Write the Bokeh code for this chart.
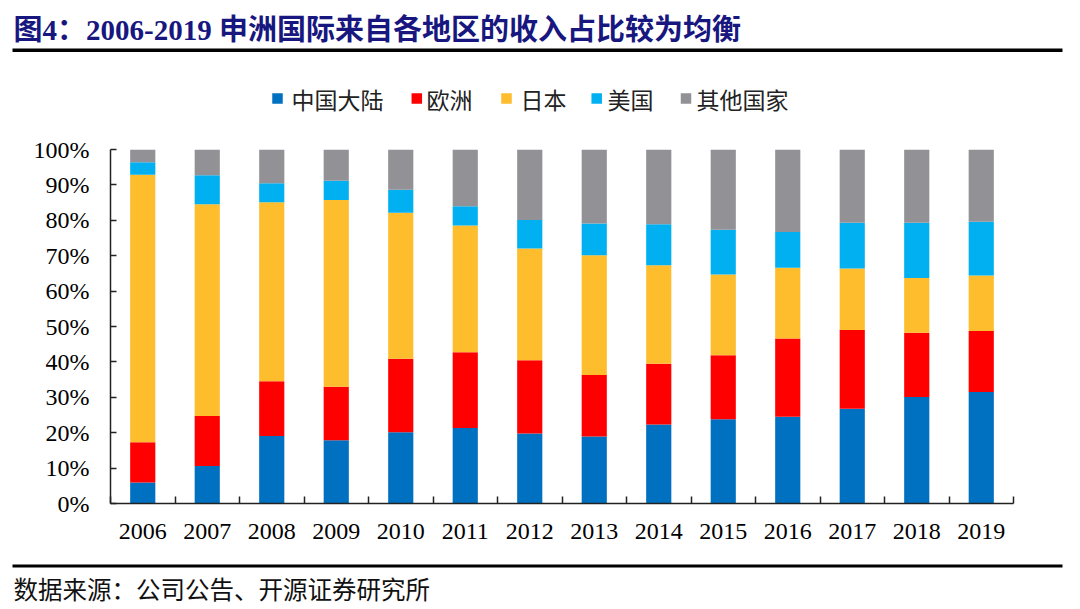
from bokeh.plotting import figure
from bokeh.layouts import column
from bokeh.models import FixedTicker, PrintfTickFormatter, Range1d, ColumnDataSource
from bokeh.core.properties import value
from bokeh.embed import file_html
from bokeh.resources import INLINE

# ---------------- data ----------------
years = ["2006", "2007", "2008", "2009", "2010", "2011", "2012",
         "2013", "2014", "2015", "2016", "2017", "2018", "2019"]
china  = [5.9, 10.6, 19.1, 17.9, 20.1, 21.3, 19.8, 18.9, 22.3, 23.8, 24.5, 26.8, 30.1, 31.5]
europe = [11.4, 14.1, 15.4, 15.1, 20.8, 21.4, 20.7, 17.4, 17.2, 18.1, 22.1, 22.2, 18.1, 17.2]
japan  = [75.6, 59.8, 50.6, 52.7, 41.2, 35.8, 31.5, 33.8, 27.8, 22.8, 20.0, 17.4, 15.5, 15.7]
usa    = [3.5, 8.2, 5.4, 5.5, 6.5, 5.5, 8.1, 9.0, 11.6, 12.6, 10.1, 12.9, 15.6, 15.2]
other  = [3.6, 7.3, 9.5, 8.8, 11.4, 16.0, 19.9, 20.9, 21.1, 22.7, 23.3, 20.7, 20.7, 20.4]
series_names = ["中国大陆", "欧洲", "日本", "美国", "其他国家"]
y_ticks = [0, 10, 20, 30, 40, 50, 60, 70, 80, 90, 100]
title_text = "图4：2006-2019 申洲国际来自各地区的收入占比较为均衡"
source_text = "数据来源：公司公告、开源证券研究所"

colors = ["#0070C0", "#FF0000", "#FDBD2C", "#00B0F0", "#929196"]

# ---------------- layout ----------------
W = 1064
TOP_H, MAIN_H, BOT_H = 130, 430, 49

def deco_figure(h, y0):
    f = figure(width=W, height=h, output_backend="svg", toolbar_location=None,
               x_range=Range1d(0, W), y_range=Range1d(y0 + h, y0),
               x_axis_type=None, y_axis_type=None, min_border=0, frame_align=False)
    f.outline_line_color = None
    f.grid.visible = False
    return f

# ---- top: title, rule, legend ----
top = deco_figure(TOP_H, 0)
top.text(x=[13], y=[29.5], text=[title_text], text_font=value("Liberation Serif, Noto Sans CJK SC"),
         text_font_style="bold", text_font_size="29px", text_color="#17177F", text_baseline="middle")
top.quad(left=[12], right=[1062], top=[48], bottom=[51.5], fill_color="black", line_color=None)

leg_sq_x = [277, 416.3, 506, 596.2, 685.5]       # square centres (layout)
leg_tx_x = [291, 426, 520, 607, 696]             # label starts (layout)
top.scatter(x=leg_sq_x, y=[98] * 5, marker="square", size=10.5, color=colors, line_color=None)
top.text(x=leg_tx_x, y=[98] * 5, text=series_names, text_font=value("Noto Sans CJK SC"),
         text_font_size="23px", text_color="#222222", text_baseline="middle")

# ---- main chart ----
FL, FR, FT, FB = 110, 51, 19, 57
xs = [i + 0.5 for i in range(len(years))]
src = ColumnDataSource(dict(x=xs, **{n: v for n, v in zip(series_names, [china, europe, japan, usa, other])}))

p = figure(width=W, height=MAIN_H, output_backend="svg", toolbar_location=None,
           x_range=Range1d(0, len(years)), y_range=Range1d(0, 100), frame_align=False,
           min_border_left=FL, min_border_right=FR, min_border_top=FT, min_border_bottom=FB)
p.outline_line_color = None
p.grid.visible = False

p.vbar_stack(series_names, x="x", width=0.39, color=colors, line_color=None, source=src)

ya = p.yaxis[0]
ya.ticker = FixedTicker(ticks=y_ticks)
ya.formatter = PrintfTickFormatter(format="%d%%")
ya.major_tick_in = 6
ya.major_tick_out = 0
ya.major_tick_line_color = "#222222"
ya.major_tick_line_width = 1.5
ya.minor_tick_line_color = None
ya.major_label_standoff = 21
ya.axis_line_color = "#222222"
ya.axis_line_width = 1.5
ya.major_label_text_font = "Liberation Serif"
ya.major_label_text_font_size = "24px"
ya.major_label_text_color = "black"

xa = p.xaxis[0]
xa.ticker = FixedTicker(ticks=xs, minor_ticks=list(range(len(years) + 1)))
xa.major_label_overrides = {x: y for x, y in zip(xs, years)}
xa.major_tick_line_color = None
xa.minor_tick_in = 7
xa.minor_tick_out = 0
xa.minor_tick_line_color = "#222222"
xa.minor_tick_line_width = 1.5
xa.axis_line_color = "#222222"
xa.axis_line_width = 1.5
xa.major_label_standoff = 14
xa.major_label_text_font = "Liberation Serif"
xa.major_label_text_font_size = "24px"
xa.major_label_text_color = "black"

# ---- bottom: rule and source ----
bot = deco_figure(BOT_H, TOP_H + MAIN_H)
bot.quad(left=[12], right=[1062], top=[564], bottom=[567], fill_color="black", line_color=None)
bot.text(x=[13], y=[588], text=[source_text], text_font=value("Noto Sans CJK SC"),
         text_font_size="24.5px", text_color="#111111", text_baseline="middle")

layout = column(top, p, bot, spacing=0)
open("out.html", "w").write(file_html(layout, INLINE))
